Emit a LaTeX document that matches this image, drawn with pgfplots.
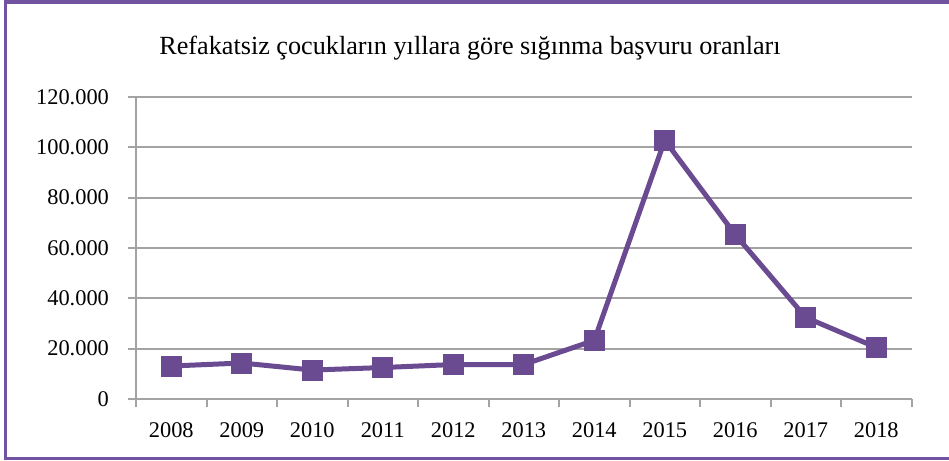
\documentclass[border=0pt]{standalone}
\usepackage{fontspec}
\setmainfont{Liberation Serif}
\usepackage{pgfplots}
\pgfplotsset{compat=1.18}
\definecolor{linepurple}{HTML}{6A4A91}
\definecolor{framepurple}{HTML}{7052A0}
\definecolor{gridgray}{HTML}{A3A3A3}
\begin{document}
\begin{tikzpicture}
\path[use as bounding box] (0,0) rectangle (474.5pt,230.5pt);
\draw[framepurple, line width=1.8pt] (480pt,229.6pt) -- (2.75pt,229.6pt) -- (2.75pt,1.3pt) -- (480pt,1.3pt);
\node[font=\fontsize{13.1}{15}\selectfont] at (235pt,206.5pt) {Refakatsiz çocukların yıllara göre sığınma başvuru oranları};
\begin{axis}[
  at={(68pt,31pt)}, anchor=south west,
  scale only axis, width=387.75pt, height=151pt,
  xmin=-0.5, xmax=10.5, ymin=0, ymax=120000,
  axis x line*=bottom, axis y line*=left,
  axis line style={gridgray, line width=1pt},
  xtick={0,...,10},
  xticklabels={2008,2009,2010,2011,2012,2013,2014,2015,2016,2017,2018},
  minor xtick={-0.5,0.5,...,10.5},
  major x tick style={draw=none},
  minor tick length=4pt,
  tick align=outside,
  ytick={0,20000,40000,60000,80000,100000,120000},
  yticklabels={0,20.000,40.000,60.000,80.000,100.000,120.000},
  major tick length=4pt,
  tick style={gridgray, line width=1pt},
  ymajorgrids,
  grid style={gridgray, line width=1pt},
  scaled y ticks=false,
  ticklabel style={font=\fontsize{11.2}{13}\selectfont, text=black},
  xticklabel style={yshift=-4.5pt},
  yticklabel style={xshift=-6pt},
  clip=false,
]
\addplot[linepurple, line width=2.5pt, mark=square*, mark size=5pt, mark options={fill=linepurple, draw=linepurple, line width=0pt}]
coordinates {
(0,13100) (1,14300) (2,11500) (3,12500) (4,13700) (5,13700) (6,23300) (7,102800) (8,65300) (9,32400) (10,20500)
};
\end{axis}
\end{tikzpicture}
\end{document}
